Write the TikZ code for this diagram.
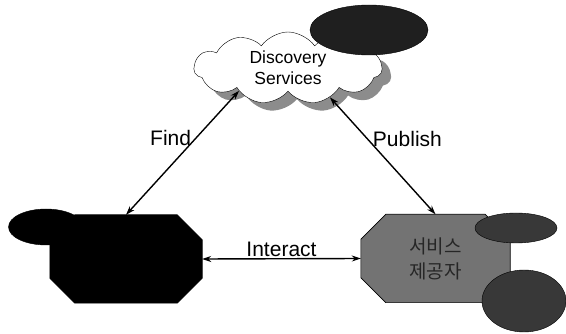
\documentclass[tikz,border=0pt]{standalone}
\usepackage{fontspec}
\setmainfont{Liberation Sans}
\newfontfamily\kofont{Noto Sans CJK KR}
\usetikzlibrary{shapes.symbols,shapes.geometric,shadows,arrows.meta}

\tikzset{
  party/.style={rectangle, inner sep=0pt, minimum width=#1, minimum height=88pt},
  octa/.style={draw=black, line width=0.6pt},
  blob/.style={ellipse, draw=black, inner sep=0pt},
  link/.style={{Stealth[length=9pt,width=6pt]}-{Stealth[length=9pt,width=6pt]}, line width=1.4pt},
  lbl/.style={font=\fontsize{21}{23}\selectfont}
}
\newcommand\octagon[2]{%
  \path[octa,#2] ([xshift=25pt]#1.north west) -- ([xshift=-25pt]#1.north east)
    -- ([yshift=-25pt]#1.north east) -- ([yshift=25pt]#1.south east)
    -- ([xshift=-25pt]#1.south east) -- ([xshift=25pt]#1.south west)
    -- ([yshift=25pt]#1.south west) -- ([yshift=-25pt]#1.north west) -- cycle;}

\begin{document}
\begin{tikzpicture}[x=1pt,y=-1pt]
\useasboundingbox (0,0) rectangle (566,334);
\node[cloud, cloud puffs=11, cloud puff arc=110, aspect=2.6, draw=black, fill=white,
      minimum width=188pt, minimum height=72pt, inner sep=0pt, align=center,
      font=\fontsize{17.5}{21}\selectfont,
      drop shadow={shadow xshift=9pt, shadow yshift=-8pt, fill=black!45, opacity=1}]
      (disco) at (288,68) {Discovery\\Services};
\node[blob, fill=black!88, minimum width=118pt, minimum height=50pt] (ellTop) at (369,30) {};

\node[party=152pt] (req) at (126,259) {};
\octagon{req}{fill=black}
\node[blob, fill=black, minimum width=75pt, minimum height=36pt] (ellReq) at (46,227) {};

\node[party=149pt] (prov) at (435.5,258.5) {};
\octagon{prov}{fill=black!55}
\node[align=center, text=black!85, font=\kofont\fontsize{19}{25}\selectfont] (provTxt) at (prov) {서비스\\제공자};
\node[blob, fill=black!78, minimum width=82pt, minimum height=30pt] (ellProvA) at (516,228) {};
\node[blob, fill=black!78, minimum width=84pt, minimum height=62pt] (ellProvB) at (524,301) {};

\draw[link] (disco.205) -- (req.north) node[lbl, pos=0.38, left=1pt] {Find};
\draw[link] (disco.325) -- (prov.north) node[lbl, pos=0.36, right=1pt] {Publish};
\draw[link] (req.east) -- (prov.west) node[lbl, midway, above=-2pt] {Interact};
\end{tikzpicture}
\end{document}
